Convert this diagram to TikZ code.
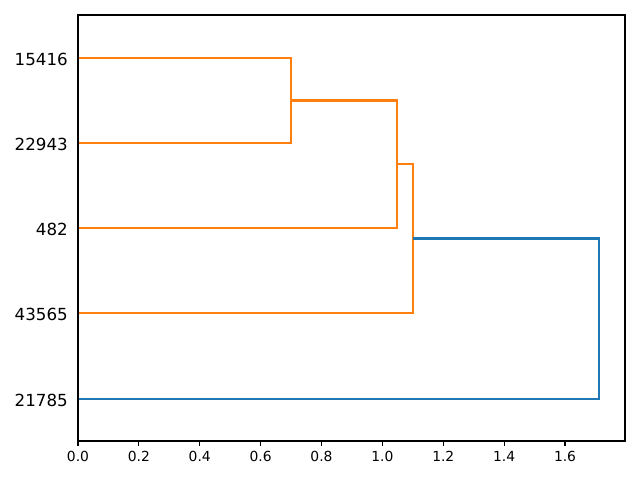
\documentclass[tikz,border=0pt]{standalone}
\usepackage{fontspec}
\setmainfont{DejaVu Sans}
\definecolor{mplorange}{HTML}{FF7F0E}
\definecolor{mplblue}{HTML}{1F77B4}
\begin{document}
\begin{tikzpicture}[x=0.75pt,y=-0.75pt,
  link/.style={line width=1.56pt,line join=miter},
  axisframe/.style={line width=0.83pt,line join=miter},
  leaflabel/.style={anchor=east,inner sep=0pt,font=\fontsize{12.5}{14}\selectfont},
  ticklabel/.style={anchor=north,inner sep=0pt,font=\fontsize{10.4}{12}\selectfont},
  tickmark/.style={line width=0.83pt}]
\useasboundingbox (0,0) rectangle (640,480);
% leaf anchors on the left axis
\coordinate (l1) at (78,58);
\coordinate (l2) at (78,143);
\coordinate (l3) at (78,228);
\coordinate (l4) at (78,313);
\coordinate (l5) at (78,399);
% merge points
\coordinate (a1) at (291,58);
\coordinate (a2) at (291,143);
\coordinate (b1) at (397,100.5);
\coordinate (b2) at (397,228);
\coordinate (c1) at (413,164);
\coordinate (c2) at (413,313);
\coordinate (d1) at (599,238.5);
\coordinate (d2) at (599,399);
% links
\draw[link,mplorange] (l1) -- (a1) -- (a2) -- (l2);
\draw[link,mplorange] (b1 -| a1) -- (b1) -- (b2) -- (l3);
\draw[link,mplorange] (c1 -| b1) -- (c1) -- (c2) -- (l4);
\draw[link,mplblue] (d1 -| c1) -- (d1) -- (d2) -- (l5);
% frame
\draw[axisframe] (78,15) rectangle (625,441);
% leaf labels
\node[leaflabel] (t1) at (68,59) {15416};
\node[leaflabel] (t2) at (68,144) {22943};
\node[leaflabel] (t3) at (68,229) {482};
\node[leaflabel] (t4) at (68,314) {43565};
\node[leaflabel] (t5) at (68,400) {21785};
% x ticks
\foreach \v/\lab [count=\i] in {0/0.0,0.2/0.2,0.4/0.4,0.6/0.6,0.8/0.8,1.0/1.0,1.2/1.2,1.4/1.4,1.6/1.6}{
  \pgfmathsetmacro{\xx}{78+304.4*\v}
  \draw[tickmark] (\xx,441) -- (\xx,446);
  \node[ticklabel] (x\i) at (\xx,451) {\lab};
}
\end{tikzpicture}
\end{document}
